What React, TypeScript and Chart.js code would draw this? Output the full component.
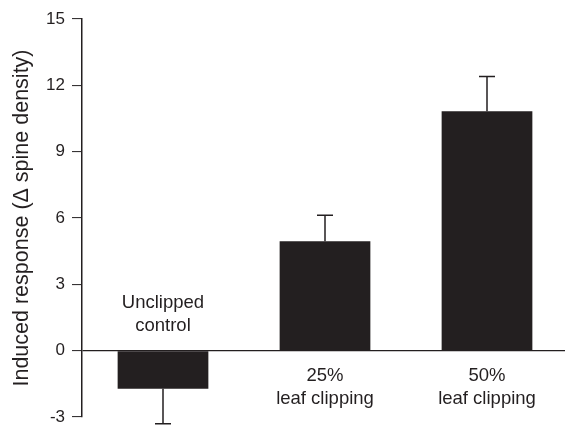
import React, { useEffect, useRef } from "react";
import { Chart, registerables } from "chart.js";

Chart.register(...registerables);

const categories: string[][] = [["Unclipped", "control"], ["25%", "leaf clipping"], ["50%", "leaf clipping"]];
const values: number[] = [-1.72, 4.95, 10.83];
const errors: number[] = [1.58, 1.17, 1.57];
const yTicks: number[] = [-3, 0, 3, 6, 9, 12, 15];
const yTitle = "Induced response (\u0394 spine density)";

const INK = "#231f20";
const FONT = "'Liberation Sans', Arial, Helvetica, sans-serif";

const extrasPlugin = {
  id: "extras",
  afterDatasetsDraw(chart: any) {
    const ctx = chart.ctx;
    const meta = chart.getDatasetMeta(0);
    const y = chart.scales.y;
    const zeroY = y.getPixelForValue(0);
    ctx.save();
    meta.data.forEach((bar: any, i: number) => {
      const v = values[i];
      const e = errors[i];
      const x = bar.x;
      const end = y.getPixelForValue(v + (v >= 0 ? e : -e));
      ctx.strokeStyle = INK;
      ctx.lineWidth = 1.5;
      ctx.beginPath();
      ctx.moveTo(x, bar.y);
      ctx.lineTo(x, end);
      ctx.moveTo(x - 8, end);
      ctx.lineTo(x + 8, end);
      ctx.stroke();
      ctx.fillStyle = INK;
      ctx.font = `18.5px ${FONT}`;
      ctx.textAlign = "center";
      ctx.textBaseline = "middle";
      const lines = categories[i];
      const lh = 23;
      lines.forEach((ln, k) => {
        let ly;
        if (v >= 0) ly = zeroY + 25 + k * lh;
        else ly = zeroY - 25 - (lines.length - 1 - k) * lh;
        ctx.fillText(ln, x, ly);
      });
    });
    ctx.restore();
  },
};

export default function App() {
  const ref = useRef<HTMLCanvasElement>(null);
  useEffect(() => {
    if (!ref.current) return;
    const chart = new Chart(ref.current, {
      type: "bar",
      data: {
        labels: categories.map((c) => c.join(" ")),
        datasets: [
          {
            data: values,
            backgroundColor: INK,
            borderWidth: 0,
            categoryPercentage: 1,
            barPercentage: 0.56,
          },
        ],
      },
      options: {
        animation: false,
        responsive: false,
        maintainAspectRatio: false,
        layout: { padding: { top: 19, bottom: 10, left: 0, right: 0 } },
        plugins: { legend: { display: false }, tooltip: { enabled: false } },
        scales: {
          x: { display: false, offset: true },
          y: {
            min: -3,
            max: 15,
            afterBuildTicks: (s: any) => {
              s.ticks = yTicks.map((v) => ({ value: v }));
            },
            afterFit: (s: any) => {
              s.width = 82;
              s.paddingTop = 0;
              s.paddingBottom = 0;
            },
            border: { display: true, color: INK, width: 1.5 },
            grid: {
              drawOnChartArea: true,
              drawTicks: true,
              tickLength: 10,
              tickColor: INK,
              tickWidth: 1,
              color: (c: any) => (c.tick && c.tick.value === 0 ? INK : "rgba(0,0,0,0)"),
              lineWidth: 1.2,
            },
            ticks: {
              color: INK,
              font: { family: FONT, size: 17 },
              padding: 7,
            },
            title: {
              display: true,
              text: yTitle,
              color: INK,
              font: { family: FONT, size: 21.5 },
              padding: { top: 9, bottom: 0 },
            },
          },
        },
      },
      plugins: [extrasPlugin],
    } as any);
    return () => chart.destroy();
  }, []);
  return (
    <div style={{ position: "fixed", left: 0, top: 0, width: 565, height: 427, overflow: "hidden", background: "#fff" }}>
      <canvas ref={ref} width={568} height={427} style={{ width: 568, height: 427, display: "block" }} />
    </div>
  );
}
